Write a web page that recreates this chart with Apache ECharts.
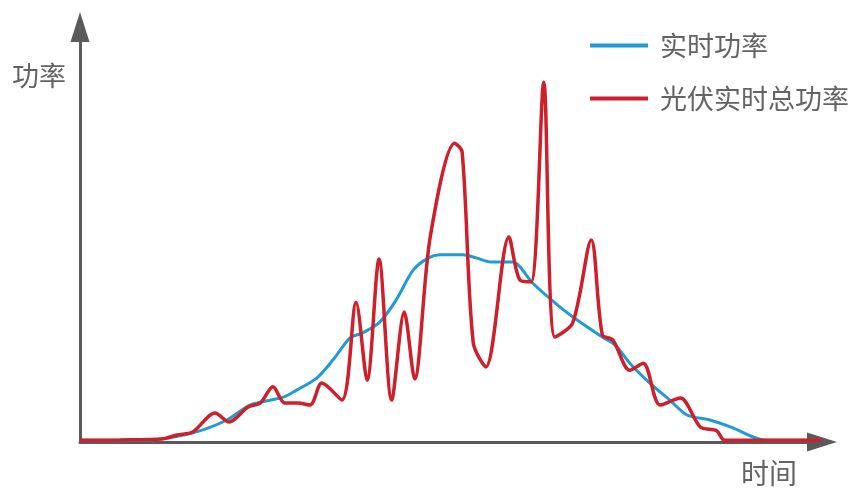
<!DOCTYPE html>
<html>
<head>
<meta charset="utf-8">
<script src="https://cdn.jsdelivr.net/npm/echarts@6/dist/echarts.min.js"></script>
<style>
html,body{margin:0;padding:0;background:#fff;}
#chart{width:859px;height:490px;}
</style>
</head>
<body>
<div id="chart"></div>
<script>
// Series names
const seriesNames = ['实时功率', '光伏实时总功率'];
const axisNames = { y: '功率', x: '时间' };

// 实时功率 (blue): time (0-100) and power (0-100)
const blueTime  = [0, 9.4, 15.2, 19.8, 22.9, 27.4, 29.2, 31.9, 34.1, 36.4, 38.1, 40.4, 42.6, 44.9, 46.9, 48.5, 51.6, 53.5, 55.3, 58.4, 59.3, 61.0, 64.7, 67.0, 70.4, 72.1, 74.1, 76.8, 79.5, 81.8, 84.9, 88.0, 90.7, 92.6, 100];
const bluePower = [0.4, 0.5, 2.2, 5.3, 8.9, 10.8, 12.5, 15.4, 19.8, 25.1, 26.3, 28.9, 34.2, 41.4, 44.3, 45.1, 45.1, 44.3, 43.4, 43.4, 42.2, 38.3, 32.5, 29.4, 25.3, 23.4, 19.0, 14.2, 10.1, 6.5, 5.3, 3.4, 1.2, 0.4, 0.4];

// 光伏实时总功率 (red)
const redTime  = [0, 5.4, 11.2, 13.1, 15.2, 18.2, 20.1, 22.6, 24.3, 26.0, 27.6, 29.4, 31.0, 32.6, 35.3, 37.2, 38.7, 40.3, 42.0, 43.7, 45.1, 47.2, 50.5, 51.5, 53.0, 54.7, 57.8, 59.3, 60.8, 62.5, 64.0, 66.4, 68.9, 70.4, 71.8, 74.1, 75.9, 78.2, 80.9, 83.6, 85.8, 86.9, 100];
const redPower = [0.4, 0.5, 0.8, 1.7, 2.4, 7.0, 4.8, 8.4, 9.4, 13.3, 9.4, 9.4, 8.9, 14.2, 10.1, 33.7, 14.9, 44.1, 10.1, 31.3, 15.2, 49.4, 72.0, 69.9, 23.9, 18.1, 49.4, 39.0, 38.6, 86.7, 25.3, 28.7, 48.7, 25.8, 24.6, 17.3, 19.0, 8.9, 10.6, 3.6, 2.7, 0.4, 0.4];

const pair = (xs, ys) => xs.map((x, i) => [x, ys[i]]);

const chart = echarts.init(document.getElementById('chart'), null, { renderer: 'canvas' });
const axisColor = '#5a5a5a';
const textColor = '#636363';
const font = '"Noto Sans CJK SC", "Noto Sans", sans-serif';

const axisLine = {
  show: true, onZero: false,
  symbol: ['none', 'triangle'], symbolSize: [19, 30], symbolOffset: [0, 0],
  lineStyle: { color: axisColor, width: 3 }
};

chart.setOption({
  backgroundColor: '#fff',
  animation: false,
  grid: { left: 80, right: 37, top: 27, bottom: 48, containLabel: false },
  legend: {
    orient: 'vertical',
    left: 585,
    top: 27,
    icon: 'rect',
    itemWidth: 58,
    itemHeight: 4,
    itemGap: 26,
    textStyle: { fontSize: 27, color: textColor, fontFamily: font, padding: [0, 0, 0, 7] },
    data: seriesNames
  },
  xAxis: {
    type: 'value', min: 0, max: 100,
    axisLine: axisLine,
    axisTick: { show: false }, axisLabel: { show: false }, splitLine: { show: false }
  },
  yAxis: {
    type: 'value', min: 0, max: 100,
    axisLine: axisLine,
    axisTick: { show: false }, axisLabel: { show: false }, splitLine: { show: false }
  },
  graphic: [
    { type: 'text', left: 12, top: 62, style: { text: axisNames.y, fontSize: 27, fill: textColor, fontFamily: font } },
    { type: 'text', left: 741, top: 459, style: { text: axisNames.x, fontSize: 28, fill: textColor, fontFamily: font } }
  ],
  series: [
    {
      name: seriesNames[0], type: 'line', data: pair(blueTime, bluePower),
      smooth: 0.3, symbol: 'none', showSymbol: false,
      lineStyle: { color: '#1f9bd6', width: 3 }, itemStyle: { color: '#1f9bd6' }, z: 2
    },
    {
      name: seriesNames[1], type: 'line', data: pair(redTime, redPower),
      smooth: 0.3, symbol: 'none', showSymbol: false,
      lineStyle: { color: '#cf1f2a', width: 3.5 }, itemStyle: { color: '#cf1f2a' }, z: 3
    }
  ]
});
</script>
</body>
</html>
